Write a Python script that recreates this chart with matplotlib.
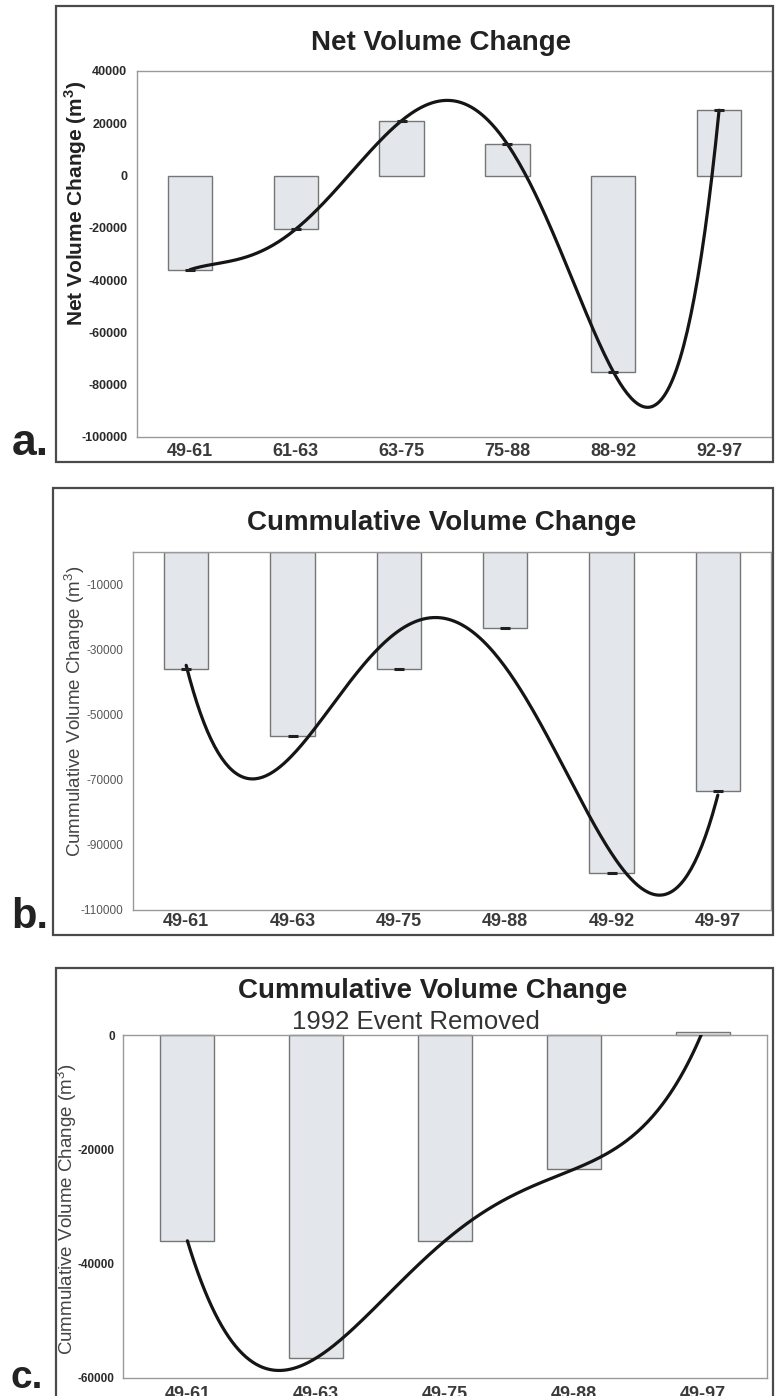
import numpy as np
import matplotlib
matplotlib.use('Agg')
import matplotlib.pyplot as plt
from matplotlib.patches import Rectangle

plt.rcParams['font.family'] = ['Liberation Sans', 'DejaVu Sans']
plt.rcParams['mathtext.fontset'] = 'custom'
plt.rcParams['mathtext.rm'] = 'Liberation Sans'
plt.rcParams['mathtext.bf'] = 'Liberation Sans:bold'

# panel a - volume change per survey interval
periods_net = ['49-61', '61-63', '63-75', '75-88', '88-92', '92-97']
net_change = [-36000, -20500, 21000, 12000, -75000, 25000]

# panel b - cumulative change since 1949
periods_cum = ['49-61', '49-63', '49-75', '49-88', '49-92', '49-97']
cum_change = [-36000, -56500, -36000, -23500, -98500, -73500]

# panel c - cumulative change without the 1992 event
periods_no92 = ['49-61', '49-63', '49-75', '49-88', '49-97']
cum_change_no92 = [-36000, -56500, -36000, -23500, 600]

W, H = 775, 1396
fig = plt.figure(figsize=(W / 100, H / 100), dpi=100)

BAR_FACE = '#e3e6ea'
BAR_EDGE = '#767676'
SPINE = '#9a9a9a'


def fx(px):
    return px / W


def fy(py):
    return 1 - py / H


def make_axes(left, top, right, bottom):
    return fig.add_axes([fx(left), fy(bottom), fx(right) - fx(left), (bottom - top) / H])


def draw_panel(ax, labels, values, degree, ylim, yticks, ytick_bold, ytick_size,
               ytick_pad, xtick_pad, markers=True, clip=True):
    x = np.arange(len(labels))
    ax.bar(x, values, width=0.42, color=BAR_FACE, edgecolor=BAR_EDGE,
           linewidth=1.0, zorder=2, clip_on=clip)
    # polynomial trend line, as in the original spreadsheet
    coef = np.polyfit(x, values, degree)
    xs = np.linspace(0, len(labels) - 1, 300)
    ax.plot(xs, np.polyval(coef, xs), color='#151515', lw=2.3, zorder=4,
            solid_capstyle='round')
    if markers:
        ax.plot(x, values, ls='none', marker='_', ms=7, mew=2.2,
                color='#202020', zorder=5)
    ax.set_xlim(-0.5, len(labels) - 0.5)
    ax.set_ylim(*ylim)
    ax.set_xticks(x)
    ax.set_xticklabels(labels, fontsize=13, fontweight='bold', color='#3a3a3a')
    ax.set_yticks(yticks)
    ax.set_yticklabels([str(v) for v in yticks], fontsize=ytick_size,
                       fontweight='bold' if ytick_bold else 'normal',
                       color='#2a2a2a' if ytick_bold else '#555555')
    ax.tick_params(axis='both', length=0)
    ax.tick_params(axis='y', pad=ytick_pad)
    ax.tick_params(axis='x', pad=xtick_pad)
    for s in ax.spines.values():
        s.set_color(SPINE)
        s.set_linewidth(1.0)


# outer frames around each panel
for (l, t, r, b) in [(56, 6, 773, 462), (53, 488, 773, 935), (56, 968, 773, 1400)]:
    fig.patches.append(Rectangle((fx(l), fy(b)), fx(r) - fx(l), (b - t) / H,
                                 transform=fig.transFigure, fill=False,
                                 edgecolor='#4a4a4a', lw=1.6, zorder=0))

# a.
ax_a = make_axes(137, 71, 772, 437)
draw_panel(ax_a, periods_net, net_change, 5, (-100000, 40000),
           list(range(-100000, 40001, 20000)), True, 9, 7, 4)
fig.text(fx(441), fy(50), 'Net Volume Change', ha='center', va='baseline',
         fontsize=20, fontweight='bold', color='#222222')
fig.text(fx(76), fy(203), 'Net Volume Change (m$^\\mathbf{3}$)', rotation=90,
         ha='center', va='center', fontsize=15, fontweight='bold', color='#222222')
fig.text(fx(12), fy(455), 'a.', fontsize=32, fontweight='bold', color='#222222',
         va='baseline')

# b.
ax_b = make_axes(133, 552, 771, 910)
draw_panel(ax_b, periods_cum, cum_change, 4, (-110000, 0),
           list(range(-110000, -9999, 20000)), False, 8.5, 7, 2)
fig.text(fx(442), fy(530), 'Cummulative Volume Change', ha='center',
         va='baseline', fontsize=20, fontweight='bold', color='#222222')
fig.text(fx(75), fy(711), 'Cummulative Volume Change (m$^3$)', rotation=90,
         ha='center', va='center', fontsize=13.5, color='#444444')
fig.text(fx(11), fy(928), 'b.', fontsize=30, fontweight='bold', color='#222222',
         va='baseline')

# c.
ax_c = make_axes(123, 1035, 767, 1378)
draw_panel(ax_c, periods_no92, cum_change_no92, 4, (-60000, 0),
           [-60000, -40000, -20000, 0], True, 8.5, 6, 6, markers=False, clip=False)
fig.text(fx(433), fy(998), 'Cummulative Volume Change', ha='center',
         va='baseline', fontsize=20, fontweight='bold', color='#222222')
fig.text(fx(416), fy(1029), '1992 Event Removed', ha='center', va='baseline',
         fontsize=18.5, color='#333333')
fig.text(fx(67), fy(1209), 'Cummulative Volume Change (m$^3$)', rotation=90,
         ha='center', va='center', fontsize=13.5, color='#444444')
fig.text(fx(11), fy(1388), 'c.', fontsize=28, fontweight='bold', color='#222222',
         va='baseline')

fig.savefig('out.png', dpi=100, facecolor='white')
